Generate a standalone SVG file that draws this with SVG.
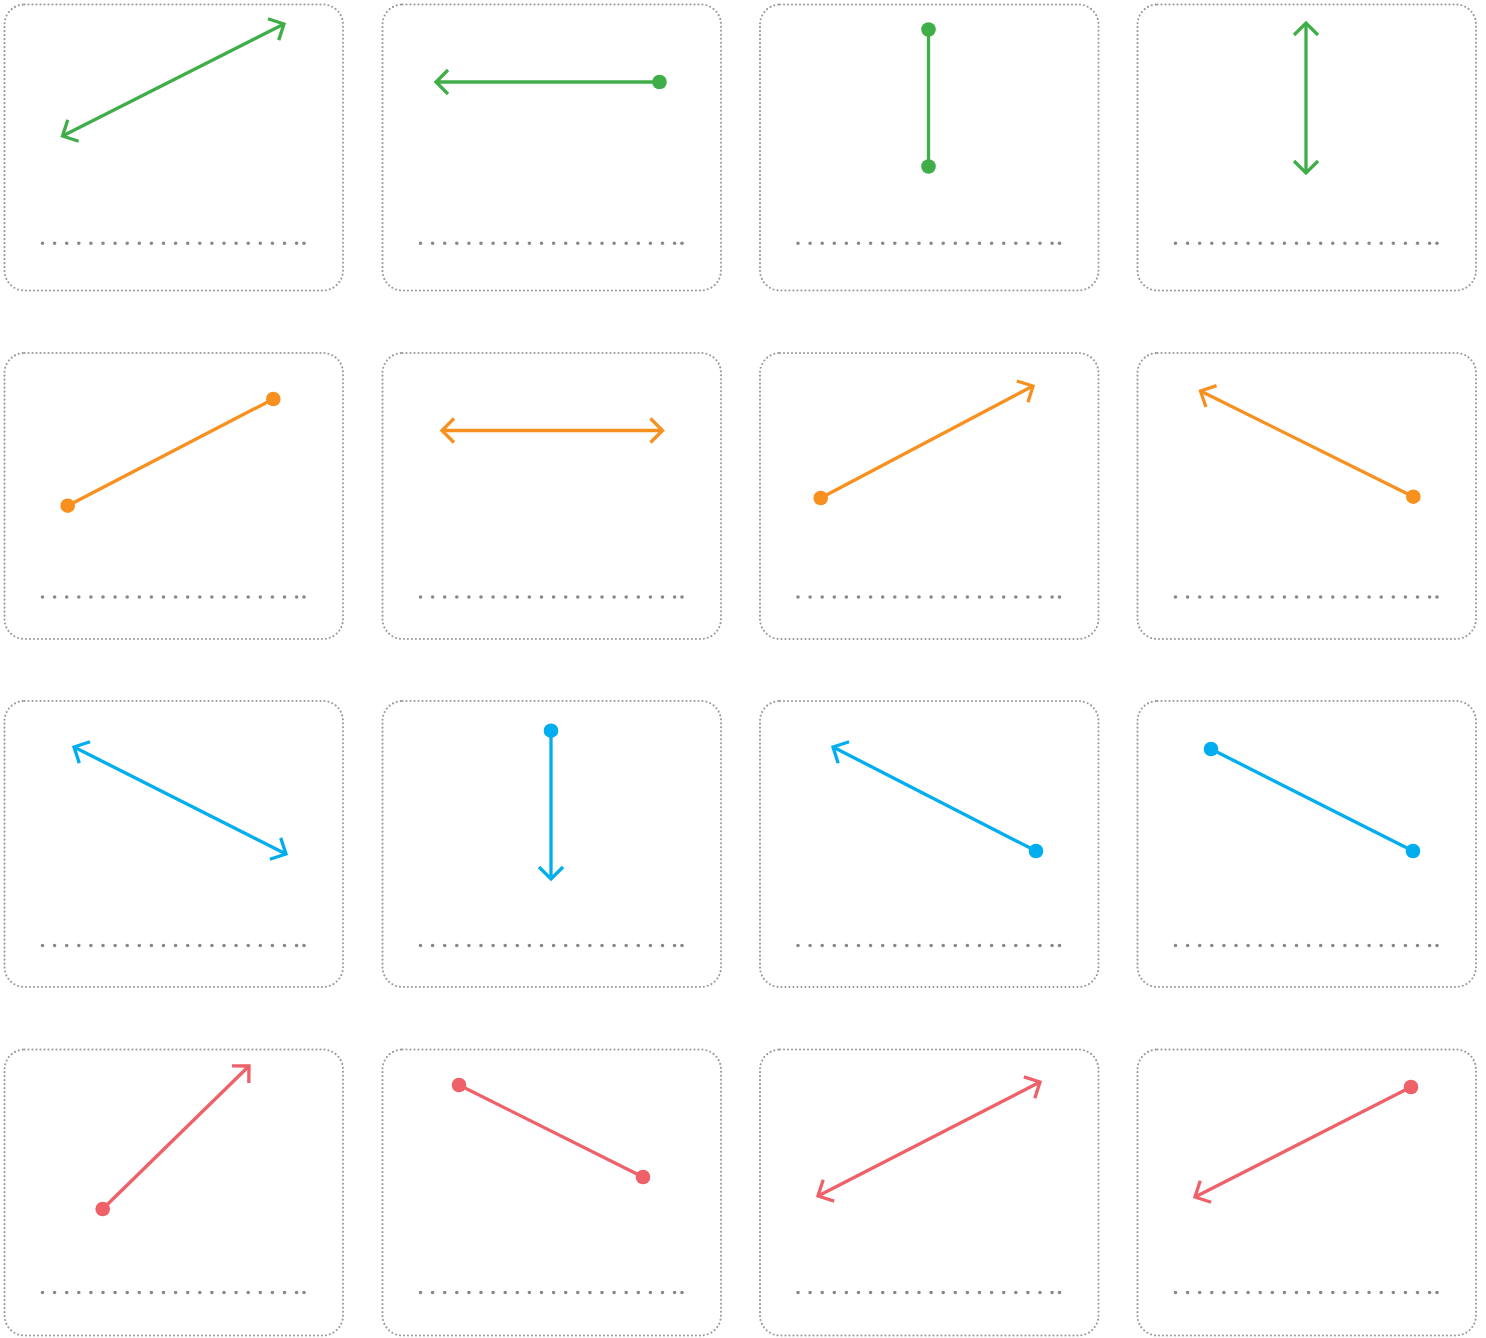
<svg xmlns="http://www.w3.org/2000/svg" width="1486" height="1338" viewBox="0 0 1486 1338">
<style>
.card{fill:#fff;stroke:#999;stroke-width:2.1;stroke-dasharray:0 4;stroke-linecap:round}
.ph{stroke:#888;stroke-width:3.6;stroke-linecap:round;stroke-dasharray:0 12.1;fill:none}
.phe{fill:#888}
.c{fill:none;stroke-width:3.3}
.g{stroke:#3fae49}.o{stroke:#f7901e}.b{stroke:#00aeef}.r{stroke:#ee6168}
</style>
<defs>
<marker id="aG" viewBox="-16 -16 20 32" markerWidth="20" markerHeight="32" markerUnits="userSpaceOnUse" orient="auto-start-reverse" overflow="visible"><path d="M-12,-12 L0,0 L-12,12" fill="none" stroke="#3fae49" stroke-width="3.3"/></marker>
<marker id="aO" viewBox="-16 -16 20 32" markerWidth="20" markerHeight="32" markerUnits="userSpaceOnUse" orient="auto-start-reverse" overflow="visible"><path d="M-12,-12 L0,0 L-12,12" fill="none" stroke="#f7901e" stroke-width="3.3"/></marker>
<marker id="aB" viewBox="-16 -16 20 32" markerWidth="20" markerHeight="32" markerUnits="userSpaceOnUse" orient="auto-start-reverse" overflow="visible"><path d="M-12,-12 L0,0 L-12,12" fill="none" stroke="#00aeef" stroke-width="3.3"/></marker>
<marker id="aR" viewBox="-16 -16 20 32" markerWidth="20" markerHeight="32" markerUnits="userSpaceOnUse" orient="auto-start-reverse" overflow="visible"><path d="M-12,-12 L0,0 L-12,12" fill="none" stroke="#ee6168" stroke-width="3.3"/></marker>
<marker id="dG" viewBox="-8 -8 16 16" markerWidth="16" markerHeight="16" markerUnits="userSpaceOnUse"><circle r="7.3" fill="#3fae49"/></marker>
<marker id="dO" viewBox="-8 -8 16 16" markerWidth="16" markerHeight="16" markerUnits="userSpaceOnUse"><circle r="7.3" fill="#f7901e"/></marker>
<marker id="dB" viewBox="-8 -8 16 16" markerWidth="16" markerHeight="16" markerUnits="userSpaceOnUse"><circle r="7.3" fill="#00aeef"/></marker>
<marker id="dR" viewBox="-8 -8 16 16" markerWidth="16" markerHeight="16" markerUnits="userSpaceOnUse"><circle r="7.3" fill="#ee6168"/></marker>
</defs>
<g id="cards">
<g id="card-1-1"><rect class="card" x="4.5" y="4.5" width="338.5" height="286" rx="20"/><path class="ph" d="M42.5,243.3 H297"/><circle class="phe" cx="304" cy="243.3" r="1.8"/></g>
<g id="card-1-2"><rect class="card" x="382.5" y="4.5" width="338.5" height="286" rx="20"/><path class="ph" d="M420.5,243.3 H675"/><circle class="phe" cx="682" cy="243.3" r="1.8"/></g>
<g id="card-1-3"><rect class="card" x="760" y="4.5" width="338.5" height="286" rx="20"/><path class="ph" d="M798,243.3 H1052.5"/><circle class="phe" cx="1059.5" cy="243.3" r="1.8"/></g>
<g id="card-1-4"><rect class="card" x="1137.5" y="4.5" width="338.5" height="286" rx="20"/><path class="ph" d="M1175.5,243.3 H1430"/><circle class="phe" cx="1437" cy="243.3" r="1.8"/></g>

<g id="card-2-1"><rect class="card" x="4.5" y="353" width="338.5" height="286" rx="20"/><path class="ph" d="M42.5,597 H297"/><circle class="phe" cx="304" cy="597" r="1.8"/></g>
<g id="card-2-2"><rect class="card" x="382.5" y="353" width="338.5" height="286" rx="20"/><path class="ph" d="M420.5,597 H675"/><circle class="phe" cx="682" cy="597" r="1.8"/></g>
<g id="card-2-3"><rect class="card" x="760" y="353" width="338.5" height="286" rx="20"/><path class="ph" d="M798,597 H1052.5"/><circle class="phe" cx="1059.5" cy="597" r="1.8"/></g>
<g id="card-2-4"><rect class="card" x="1137.5" y="353" width="338.5" height="286" rx="20"/><path class="ph" d="M1175.5,597 H1430"/><circle class="phe" cx="1437" cy="597" r="1.8"/></g>

<g id="card-3-1"><rect class="card" x="4.5" y="701" width="338.5" height="286" rx="20"/><path class="ph" d="M42.5,945.5 H297"/><circle class="phe" cx="304" cy="945.5" r="1.8"/></g>
<g id="card-3-2"><rect class="card" x="382.5" y="701" width="338.5" height="286" rx="20"/><path class="ph" d="M420.5,945.5 H675"/><circle class="phe" cx="682" cy="945.5" r="1.8"/></g>
<g id="card-3-3"><rect class="card" x="760" y="701" width="338.5" height="286" rx="20"/><path class="ph" d="M798,945.5 H1052.5"/><circle class="phe" cx="1059.5" cy="945.5" r="1.8"/></g>
<g id="card-3-4"><rect class="card" x="1137.5" y="701" width="338.5" height="286" rx="20"/><path class="ph" d="M1175.5,945.5 H1430"/><circle class="phe" cx="1437" cy="945.5" r="1.8"/></g>

<g id="card-4-1"><rect class="card" x="4.5" y="1049.5" width="338.5" height="286" rx="20"/><path class="ph" d="M42.5,1292.5 H297"/><circle class="phe" cx="304" cy="1292.5" r="1.8"/></g>
<g id="card-4-2"><rect class="card" x="382.5" y="1049.5" width="338.5" height="286" rx="20"/><path class="ph" d="M420.5,1292.5 H675"/><circle class="phe" cx="682" cy="1292.5" r="1.8"/></g>
<g id="card-4-3"><rect class="card" x="760" y="1049.5" width="338.5" height="286" rx="20"/><path class="ph" d="M798,1292.5 H1052.5"/><circle class="phe" cx="1059.5" cy="1292.5" r="1.8"/></g>
<g id="card-4-4"><rect class="card" x="1137.5" y="1049.5" width="338.5" height="286" rx="20"/><path class="ph" d="M1175.5,1292.5 H1430"/><circle class="phe" cx="1437" cy="1292.5" r="1.8"/></g>
</g>
<g id="connectors">
<path class="c g" d="M62.5,136 L284,24" marker-start="url(#aG)" marker-end="url(#aG)"/>
<path class="c g" d="M659.5,82 L436,82" marker-start="url(#dG)" marker-end="url(#aG)"/>
<path class="c g" d="M928.5,29.5 L928.5,166.5" marker-start="url(#dG)" marker-end="url(#dG)"/>
<path class="c g" d="M1306,23 L1306,173" marker-start="url(#aG)" marker-end="url(#aG)"/>

<path class="c o" d="M67.7,505.7 L273.3,399" marker-start="url(#dO)" marker-end="url(#dO)"/>
<path class="c o" d="M442,430.5 L662.5,430.5" marker-start="url(#aO)" marker-end="url(#aO)"/>
<path class="c o" d="M820.7,498 L1033,386" marker-start="url(#dO)" marker-end="url(#aO)"/>
<path class="c o" d="M1413.3,496.7 L1200.5,391" marker-start="url(#dO)" marker-end="url(#aO)"/>

<path class="c b" d="M74,747 L286,854" marker-start="url(#aB)" marker-end="url(#aB)"/>
<path class="c b" d="M551,730.7 L551,879" marker-start="url(#dB)" marker-end="url(#aB)"/>
<path class="c b" d="M1036,851 L833,747" marker-start="url(#dB)" marker-end="url(#aB)"/>
<path class="c b" d="M1211,749 L1413,851" marker-start="url(#dB)" marker-end="url(#dB)"/>

<path class="c r" d="M102.7,1209 L249,1066" marker-start="url(#dR)" marker-end="url(#aR)"/>
<path class="c r" d="M459,1085 L643,1177" marker-start="url(#dR)" marker-end="url(#dR)"/>
<path class="c r" d="M818,1196 L1040,1082" marker-start="url(#aR)" marker-end="url(#aR)"/>
<path class="c r" d="M1411,1087 L1195,1197" marker-start="url(#dR)" marker-end="url(#aR)"/>
</g>
</svg>
